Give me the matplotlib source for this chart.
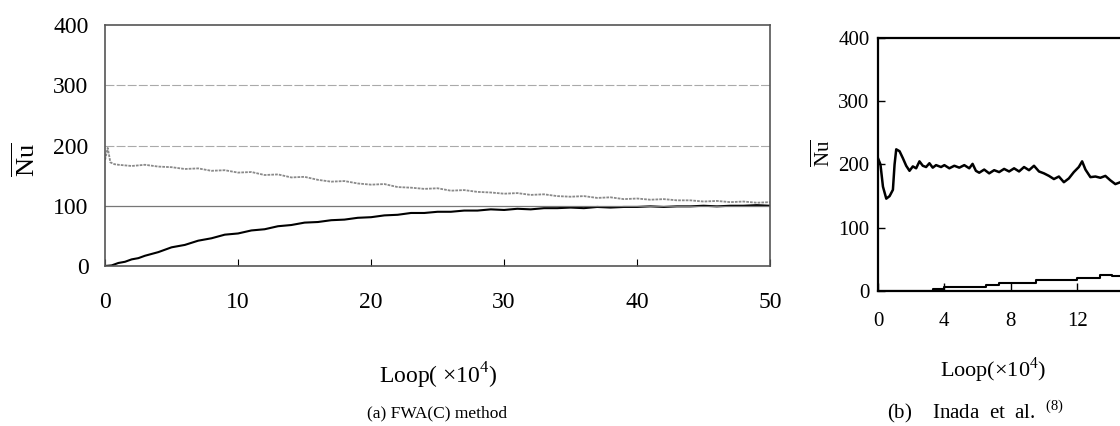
import matplotlib
matplotlib.use("Agg")
import matplotlib.pyplot as plt

plt.rcParams["font.family"] = ["Liberation Serif", "DejaVu Serif"]
plt.rcParams["mathtext.fontset"] = "custom"
plt.rcParams["mathtext.rm"] = "Liberation Serif"

# -----------------------------
# Data
# -----------------------------
# (a) FWA(C) method, loop in 1e4
fwa_loop_upper = [0, 0.2, 0.4, 0.7, 1, 2, 3, 4, 5, 6, 7, 8, 9, 10, 11, 12, 13, 14, 15,
                  16, 17, 18, 19, 20, 21, 22, 23, 24, 25, 26, 27, 28, 29, 30, 31, 32,
                  33, 34, 35, 36, 37, 38, 39, 40, 41, 42, 43, 44, 45, 46, 47, 48, 49, 50]
fwa_nu_upper = [176, 196, 172, 169, 168, 166, 168, 165, 164, 161, 162, 158, 159, 155, 156,
                151, 152, 147, 148, 143, 140, 141, 137, 135, 136, 131, 130, 128, 129, 125,
                126, 123, 122, 120, 121, 118, 119, 116, 115, 116, 113, 114, 111, 112, 110,
                111, 109, 109, 107, 108, 106, 107, 105, 106]

fwa_loop_lower = [0, 0.5, 1, 1.5, 2, 2.5, 3, 4, 5, 6, 7, 8, 9, 10, 11, 12, 13, 14, 15, 16,
                  17, 18, 19, 20, 21, 22, 23, 24, 25, 26, 27, 28, 29, 30, 31, 32, 33, 34,
                  35, 36, 37, 38, 39, 40, 41, 42, 43, 44, 45, 46, 47, 48, 49, 50]
fwa_nu_lower = [0, 1, 5, 7, 11, 13, 17, 23, 31, 35, 42, 46, 52, 54, 59, 61, 66, 68, 72, 73,
                76, 77, 80, 81, 84, 85, 88, 88, 90, 90, 92, 92, 94, 93, 95, 94, 96, 96, 97,
                96, 98, 97, 98, 98, 99, 98, 99, 99, 100, 99, 100, 100, 101, 100]

# (b) Inada et al.
inada_loop_upper = [0, 0.15, 0.3, 0.5, 0.7, 0.9, 1.0, 1.1, 1.3, 1.5, 1.7, 1.9, 2.1, 2.3,
                    2.5, 2.7, 2.9, 3.1, 3.3, 3.5, 3.8, 4.0, 4.3, 4.6, 4.9, 5.2, 5.5, 5.7,
                    5.9, 6.1, 6.4, 6.7, 7.0, 7.3, 7.6, 7.9, 8.2, 8.5, 8.8, 9.1, 9.4, 9.7,
                    10.0, 10.3, 10.6, 10.9, 11.2, 11.5, 11.8, 12.1, 12.3, 12.5, 12.8, 13.1,
                    13.4, 13.7, 14.0, 14.3, 14.6, 15.0]
inada_nu_upper = [210, 200, 165, 146, 150, 160, 200, 224, 221, 210, 198, 190, 197, 194,
                  205, 198, 196, 202, 195, 199, 196, 199, 194, 198, 195, 199, 194, 201,
                  190, 187, 192, 186, 191, 188, 193, 189, 194, 189, 196, 191, 198, 189,
                  186, 182, 177, 181, 172, 178, 188, 196, 205, 192, 180, 181, 179, 182,
                  175, 169, 172, 175]

inada_loop_lower = [0, 3.3, 4.0, 6.5, 7.3, 9.5, 12.0, 13.4, 14.1, 15.0]
inada_nu_lower = [0, 3, 7, 10, 13, 17, 21, 25, 23, 23]

# -----------------------------
# Figure
# -----------------------------
fig = plt.figure(figsize=(11.2, 4.26), dpi=100)

# ----- (a) -----
ax1 = fig.add_axes([0.0938, 0.3756, 0.5938, 0.5657])
ax1.plot(fwa_loop_upper, fwa_nu_upper, color="#8a8a8a", linewidth=1.3, linestyle=(0, (1.5, 0.6)))
ax1.plot(fwa_loop_lower, fwa_nu_lower, color="black", linewidth=1.5)
ax1.set_xlim(0, 50)
ax1.set_ylim(0, 400)
ax1.axhline(100, color="#777777", linewidth=0.9)
for v in (200, 300):
    ax1.axhline(v, color="#aaaaaa", linewidth=0.8, linestyle=(0, (8, 2)))
for s in ax1.spines.values():
    s.set_linestyle((0, (1, 1)))
    s.set_color("#555555")
    s.set_linewidth(1.2)
ax1.set_xticks([0, 10, 20, 30, 40, 50])
ax1.set_yticks([0, 100, 200, 300, 400])
ax1.tick_params(axis="x", direction="in", length=5, width=0.8, pad=19, labelsize=17)
ax1.tick_params(axis="y", length=0, pad=12, labelsize=17)
fig.text(0.023, 0.625, r"$\overline{\mathrm{Nu}}$", rotation=90, fontsize=19,
         ha="center", va="center")
fig.text(0.391, 0.118, r"Loop( $\times$10$^{4}$)", fontsize=17, ha="center", va="center")
fig.text(0.39, 0.03, "(a) FWA(C) method", fontsize=12.5, ha="center", va="center")

# ----- (b) -----
# panel runs past the right edge of the figure, like the cropped original
ax2 = fig.add_axes([0.7839, 0.3169, 0.2964, 0.5939])
ax2.plot(inada_loop_upper, inada_nu_upper, color="black", linewidth=1.8)
ax2.plot(inada_loop_lower, inada_nu_lower, color="black", linewidth=1.5, drawstyle="steps-post")
ax2.set_xlim(0, 20)
ax2.set_ylim(0, 400)
for s in ax2.spines.values():
    s.set_linewidth(1.6)
ax2.set_xticks([0, 4, 8, 12])
ax2.set_yticks([0, 100, 200, 300, 400])
ax2.tick_params(axis="x", direction="in", length=6, width=1, pad=15, labelsize=15)
ax2.tick_params(axis="y", direction="in", length=5, width=1, pad=6, labelsize=15)
fig.text(0.735, 0.64, r"$\overline{\mathrm{Nu}}$", rotation=90, fontsize=15,
         ha="center", va="center")
fig.text(0.887, 0.131, r"Loop($\times$10$^{4}$)", fontsize=16, ha="center", va="center")
fig.text(0.871, 0.035, r"(b)    Inada  et  al.  $^{(8)}$", fontsize=15, ha="center", va="center")

fig.savefig("out.png", dpi=100)
